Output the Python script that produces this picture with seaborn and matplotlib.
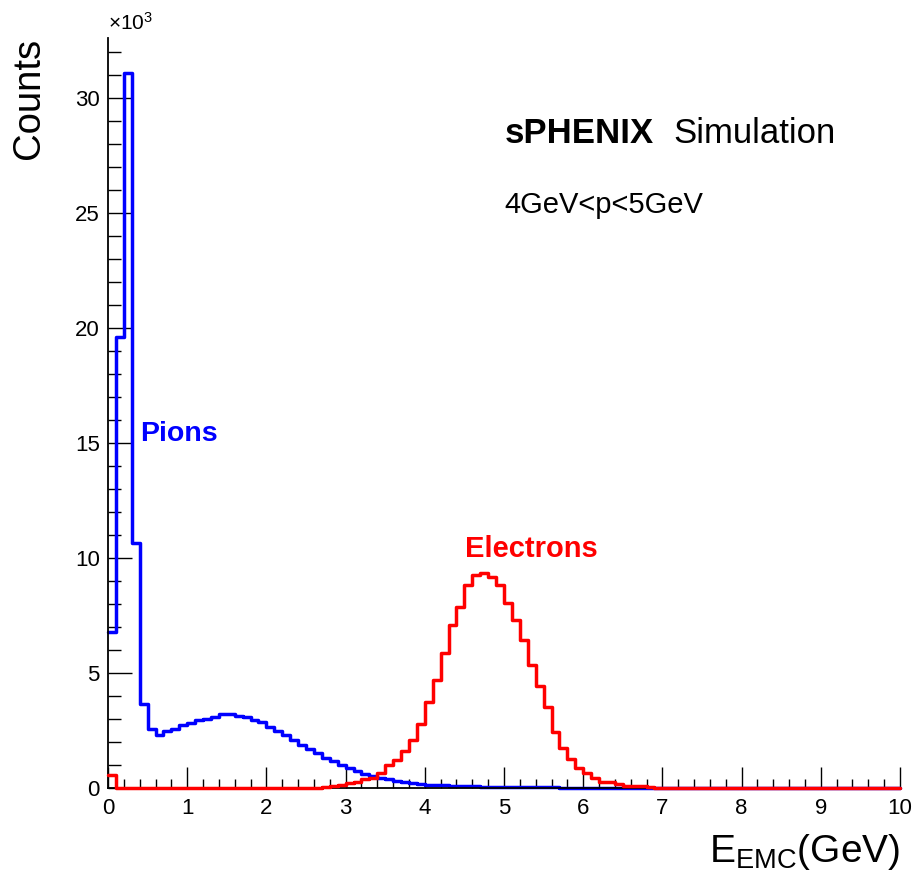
import numpy as np
import pandas as pd
import matplotlib
matplotlib.use("Agg")
import matplotlib.pyplot as plt
import seaborn as sns
from matplotlib.ticker import MultipleLocator

# ---------------- data (counts in units of 10^3, bins of 0.1 GeV from 0 to 10) -------------
bin_edges = [round(0.1 * i, 2) for i in range(101)]
bin_centers = [round(0.1 * i + 0.05, 3) for i in range(100)]

pion_counts = [
    6.8, 19.6, 31.1, 10.65, 3.66, 2.55, 2.3, 2.46, 2.57, 2.72,
    2.83, 2.96, 3.0, 3.08, 3.22, 3.22, 3.14, 3.1, 2.96, 2.85,
    2.67, 2.48, 2.3, 2.08, 1.88, 1.68, 1.5, 1.32, 1.16, 1.0,
    0.86, 0.73, 0.62, 0.52, 0.44, 0.37, 0.3, 0.25, 0.21, 0.18,
    0.15, 0.13, 0.11, 0.1, 0.09, 0.08, 0.07, 0.06, 0.05, 0.05,
    0.04, 0.04, 0.04, 0.03, 0.03, 0.03, 0.03, 0.02, 0.02, 0.02,
    0.02, 0.02, 0.02, 0.01, 0.01,
] + [0.0] * 35

electron_counts = [0.57] + [0.0] * 26 + [
    0.05, 0.08, 0.12, 0.23, 0.25, 0.4, 0.44, 0.64, 0.98, 1.22,
    1.6, 2.1, 2.8, 3.75, 4.7, 5.85, 7.09, 7.88, 8.83, 9.26,
    9.36, 9.15, 8.83, 8.05, 7.3, 6.43, 5.35, 4.45, 3.54, 2.45,
    1.73, 1.25, 0.88, 0.64, 0.42, 0.28, 0.25, 0.17, 0.1, 0.09,
    0.08, 0.06,
] + [0.0] * 31

x_ticks = list(range(0, 11))
y_ticks = [0, 5, 10, 15, 20, 25, 30]

df_pi = pd.DataFrame({"E": bin_centers, "w": pion_counts})
df_e = pd.DataFrame({"E": bin_centers, "w": electron_counts})

# ---------------- style ----------------
sns.set_style("ticks")
plt.rcParams["font.family"] = ["Liberation Sans", "DejaVu Sans"]
plt.rcParams["mathtext.fontset"] = "custom"
plt.rcParams["mathtext.rm"] = "Liberation Sans"
plt.rcParams["mathtext.it"] = "Liberation Sans:italic"
plt.rcParams["mathtext.bf"] = "Liberation Sans:bold"
for k in ["text.color", "axes.labelcolor", "xtick.color", "ytick.color", "axes.edgecolor"]:
    plt.rcParams[k] = "black"

fig = plt.figure(figsize=(9.17, 8.8), dpi=100)
ax = fig.add_axes([108 / 917, 1 - 788 / 880, 792 / 917, 750 / 880])

sns.histplot(data=df_pi, x="E", weights="w", bins=bin_edges, element="step",
             fill=False, color="#0000ff", linewidth=2.5, ax=ax)
sns.histplot(data=df_e, x="E", weights="w", bins=bin_edges, element="step",
             fill=False, color="#ff0000", linewidth=2.5, ax=ax)
ax.lines[0].set_zorder(2)
ax.lines[1].set_zorder(3)
ax.lines[1].set_clip_on(False)
ax.lines[0].set_clip_on(False)

ax.set_xlim(0, 10)
ax.set_ylim(0, 32.6)

for s in ["top", "right"]:
    ax.spines[s].set_visible(False)
for s in ["left", "bottom"]:
    ax.spines[s].set_linewidth(1.3)
    ax.spines[s].set_color("black")

ax.set_xticks(x_ticks)
ax.set_yticks(y_ticks)
ax.xaxis.set_minor_locator(MultipleLocator(0.2))
ax.yaxis.set_minor_locator(MultipleLocator(1))
ax.tick_params(axis="x", which="major", direction="in", length=15, width=1.0,
               labelsize=16, pad=7, color="black", labelcolor="black")
ax.tick_params(axis="x", which="minor", direction="in", length=6.5, width=1.0, color="black")
ax.tick_params(axis="y", which="major", direction="in", length=17.5, width=1.0,
               labelsize=16, pad=6, color="black", labelcolor="black")
ax.tick_params(axis="y", which="minor", direction="in", length=9, width=1.0, color="black")
ax.tick_params(top=False, right=False)

ax.set_ylabel("Counts", fontsize=27.5, loc="top", color="black")
ax.yaxis.set_label_coords(-0.077, 1.0)
ax.set_xlabel(r"$\mathregular{E_{EMC}(GeV)}$", fontsize=28, loc="right", color="black")
ax.xaxis.set_label_coords(1.0, -0.058)

ax.text(0.0, 1.006, r"$\mathregular{\times10^{3}}$", transform=ax.transAxes,
        fontsize=15, ha="left", va="bottom", color="black")

ax.text(5.01, 28.04, "sPHENIX", fontsize=25, fontweight="bold", ha="left",
        va="baseline", color="black")
ax.text(7.14, 28.04, "Simulation", fontsize=25, ha="left", va="baseline", color="black")
ax.text(5.01, 25.0, "4GeV<p<5GeV", fontsize=21, ha="left", va="baseline", color="black")
ax.text(0.40, 15.09, "Pions", fontsize=20.5, fontweight="bold", color="#0000ff",
        ha="left", va="baseline")
ax.text(4.51, 10.04, "Electrons", fontsize=21, fontweight="bold", color="#ff0000",
        ha="left", va="baseline")

fig.savefig("out.png", dpi=100)
